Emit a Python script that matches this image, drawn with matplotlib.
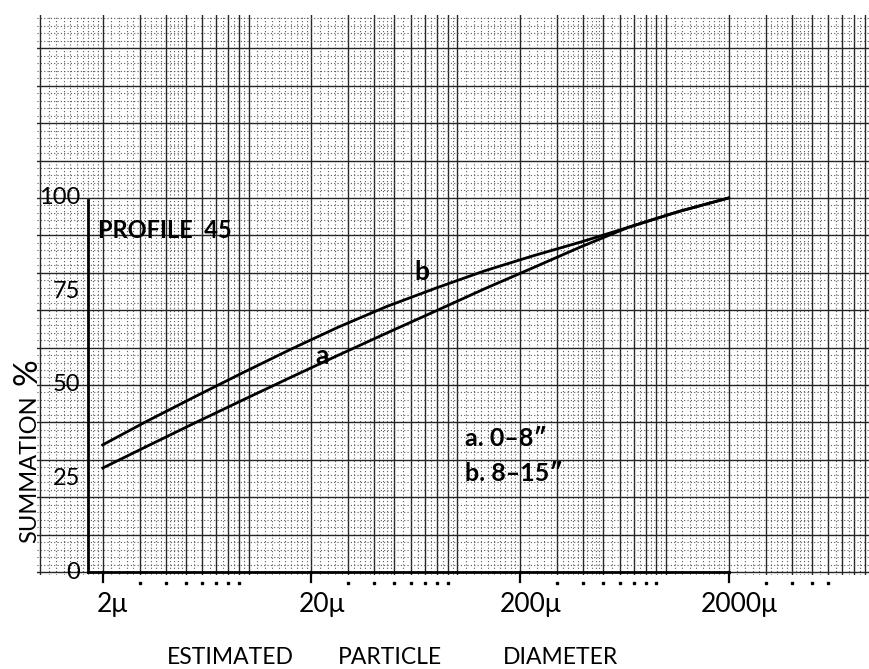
import numpy as np
import matplotlib.pyplot as plt
from matplotlib.transforms import offset_copy

# summation curves (diameter in microns, summation %)
diam = [2, 3.2, 5.5, 9.4, 16, 27, 46, 79, 135, 230, 390, 665, 1140, 2000]
curveA = [27.8, 33.4, 39.8, 46.0, 52.1, 58.0, 63.9, 69.8, 75.7, 81.3, 86.9, 92.2, 96.3, 100]
curveB = [34.0, 40.1, 46.8, 53.3, 59.6, 65.5, 71.0, 75.9, 80.5, 84.5, 88.2, 92.2, 96.3, 100]

xticks = [2, 20, 200, 2000]
xticklabels = ['2μ', '20μ', '200μ', '2000μ']
yticks = [0, 25, 50, 75, 100]
yticklabels = ['0', '25', '50', '75', '100']

legendLines = ['a. 0–8″', 'b. 8–15″']

fig = plt.figure(figsize=(8.7, 6.69), dpi=100)
ax = fig.add_axes([37/870, 1 - 575/669, 833/870, 560/669])
ax.set_xscale('log')
ax.set_xlim(0.968, 6960)
ax.set_ylim(-0.8, 148.9)

# graph paper: heavy lines on 1..9 of each cycle and every 10 %, dotted in between
major_x = [k * 10.0**n for n in range(0, 4) for k in range(1, 10)]
minor_x = []
for n in range(0, 4):
    base = 10.0**n
    minor_x += list(np.arange(1.1, 2.0, 0.1) * base)
    minor_x += list(np.arange(2.2, 5.0, 0.2) * base)
    minor_x += list(np.arange(5.5, 10.0, 0.5) * base)
ax.set_xticks(major_x)
ax.set_xticks(minor_x, minor=True)
ax.set_yticks(np.arange(0, 150, 10))
ax.set_yticks(np.arange(0, 150, 2), minor=True)
ax.grid(which='major', color='0.15', lw=1.0)
ax.grid(which='minor', color='0.35', lw=0.8, ls=(0, (1, 2)))
ax.tick_params(which='both', length=0, labelbottom=False, labelleft=False)
for s in ax.spines.values():
    s.set_visible(False)

# chart axes drawn on the paper
xl = 1.704
ax.plot([xl, xl], [0, 99.5], color='black', lw=2, clip_on=False, zorder=5)
ax.plot([xl, 2000], [0, 0], color='black', lw=2, clip_on=False, zorder=5)
for t in xticks:
    ax.plot([t, t], [0, -2.6], color='black', lw=1.6, clip_on=False, zorder=5)
dots_x = [k * 10.0**n for n in range(0, 4) for k in range(3, 10) if k * 10.0**n < 6500]
ax.plot(dots_x, [-3.0] * len(dots_x), ls='none', marker='s', ms=2, color='black', clip_on=False)

ax.plot(diam, curveA, color='black', lw=2, zorder=6)
ax.plot(diam, curveB, color='black', lw=2, zorder=6)

hand = ['Lato', 'DejaVu Sans']
yoff = offset_copy(ax.transData, fig=fig, x=-8, y=0, units='dots')
for v, lab in zip(yticks, yticklabels):
    ax.text(xl, v, lab, transform=yoff, ha='right', va='center', fontsize=17,
            family=hand, clip_on=False)
xoff = offset_copy(ax.transData, fig=fig, x=10, y=0, units='dots')
for t, lab in zip(xticks, xticklabels):
    ax.text(t, -8.8, lab, transform=xoff, ha='center', va='center', fontsize=19,
            family=hand, clip_on=False)

ax.text(1.9, 91.4, 'PROFILE  45', ha='left', va='center', fontsize=17,
        family=hand, fontweight='bold', zorder=7)
ax.text(22.5, 57.8, 'a', ha='center', va='center', fontsize=19, family=hand, fontweight='bold', zorder=7)
ax.text(67.4, 80.2, 'b', ha='center', va='center', fontsize=19, family=hand, fontweight='bold', zorder=7)
ax.text(108.9, 35.6, legendLines[0], ha='left', va='center', fontsize=18, family=hand,
        fontweight='bold', zorder=7)
ax.text(108.9, 26.2, legendLines[1], ha='left', va='center', fontsize=18, family=hand,
        fontweight='bold', zorder=7)

fig.text(30/870, 1 - 469/669, 'SUMMATION', rotation=90, ha='center', va='center',
         fontsize=17, family=hand)
fig.text(27/870, 1 - 372/669, '%', rotation=90, ha='center', va='center',
         fontsize=24, family=hand)
fig.text(230/870, 1 - 658/669, 'ESTIMATED', ha='center', va='center', fontsize=16.5, family=hand)
fig.text(390/870, 1 - 658/669, 'PARTICLE', ha='center', va='center', fontsize=16.5, family=hand)
fig.text(561/870, 1 - 658/669, 'DIAMETER', ha='center', va='center', fontsize=16.5, family=hand)

plt.savefig('out.png', dpi=100)
